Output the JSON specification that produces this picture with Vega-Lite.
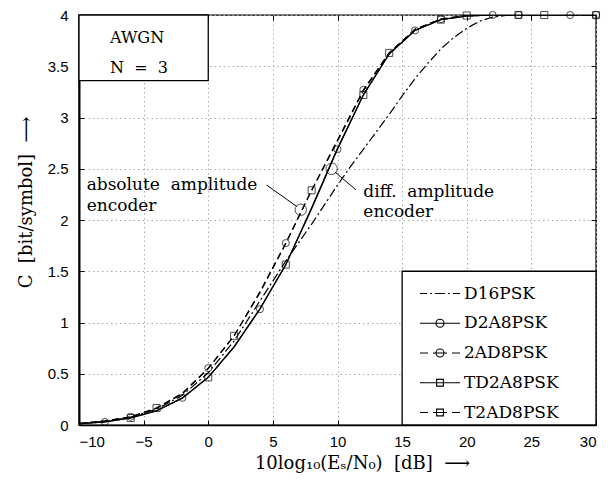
{
  "$schema": "https://vega.github.io/schema/vega-lite/v6.json",
  "width": 517,
  "height": 410,
  "autosize": {"type": "none"},
  "padding": {"left": 79, "top": 15, "right": 16, "bottom": 56},
  "background": "white",
  "datasets": {
    "curves": [
      {"series": "D16PSK", "x": -10, "y": 0.013}, {"series": "D16PSK", "x": -8, "y": 0.035}, {"series": "D16PSK", "x": -6, "y": 0.078}, {"series": "D16PSK", "x": -4, "y": 0.155}, {"series": "D16PSK", "x": -2, "y": 0.29}, {"series": "D16PSK", "x": 0, "y": 0.51}, {"series": "D16PSK", "x": 2, "y": 0.82}, {"series": "D16PSK", "x": 4, "y": 1.21}, {"series": "D16PSK", "x": 6, "y": 1.6}, {"series": "D16PSK", "x": 7, "y": 1.78}, {"series": "D16PSK", "x": 8, "y": 1.96}, {"series": "D16PSK", "x": 9, "y": 2.15}, {"series": "D16PSK", "x": 10, "y": 2.34}, {"series": "D16PSK", "x": 11, "y": 2.52}, {"series": "D16PSK", "x": 12, "y": 2.69}, {"series": "D16PSK", "x": 13, "y": 2.86}, {"series": "D16PSK", "x": 14, "y": 3.03}, {"series": "D16PSK", "x": 15, "y": 3.21}, {"series": "D16PSK", "x": 16, "y": 3.38}, {"series": "D16PSK", "x": 17, "y": 3.53}, {"series": "D16PSK", "x": 18, "y": 3.67}, {"series": "D16PSK", "x": 19, "y": 3.78}, {"series": "D16PSK", "x": 20, "y": 3.87}, {"series": "D16PSK", "x": 21, "y": 3.94}, {"series": "D16PSK", "x": 22, "y": 3.98}, {"series": "D16PSK", "x": 23, "y": 3.995}, {"series": "D16PSK", "x": 24, "y": 4}, {"series": "D16PSK", "x": 26, "y": 4}, {"series": "D16PSK", "x": 28, "y": 4}, {"series": "D16PSK", "x": 30, "y": 4},
      {"series": "D2A8PSK", "x": -10, "y": 0.012}, {"series": "D2A8PSK", "x": -8, "y": 0.03}, {"series": "D2A8PSK", "x": -6, "y": 0.07}, {"series": "D2A8PSK", "x": -4, "y": 0.14}, {"series": "D2A8PSK", "x": -2, "y": 0.265}, {"series": "D2A8PSK", "x": 0, "y": 0.465}, {"series": "D2A8PSK", "x": 2, "y": 0.76}, {"series": "D2A8PSK", "x": 4, "y": 1.13}, {"series": "D2A8PSK", "x": 6, "y": 1.565}, {"series": "D2A8PSK", "x": 8, "y": 2.11}, {"series": "D2A8PSK", "x": 10, "y": 2.69}, {"series": "D2A8PSK", "x": 12, "y": 3.22}, {"series": "D2A8PSK", "x": 14, "y": 3.62}, {"series": "D2A8PSK", "x": 16, "y": 3.85}, {"series": "D2A8PSK", "x": 18, "y": 3.955}, {"series": "D2A8PSK", "x": 20, "y": 3.99}, {"series": "D2A8PSK", "x": 22, "y": 4}, {"series": "D2A8PSK", "x": 24, "y": 4}, {"series": "D2A8PSK", "x": 26, "y": 4}, {"series": "D2A8PSK", "x": 28, "y": 4}, {"series": "D2A8PSK", "x": 30, "y": 4},
      {"series": "2AD8PSK", "x": -10, "y": 0.015}, {"series": "2AD8PSK", "x": -8, "y": 0.04}, {"series": "2AD8PSK", "x": -6, "y": 0.08}, {"series": "2AD8PSK", "x": -4, "y": 0.165}, {"series": "2AD8PSK", "x": -2, "y": 0.31}, {"series": "2AD8PSK", "x": 0, "y": 0.555}, {"series": "2AD8PSK", "x": 2, "y": 0.87}, {"series": "2AD8PSK", "x": 4, "y": 1.3}, {"series": "2AD8PSK", "x": 6, "y": 1.775}, {"series": "2AD8PSK", "x": 8, "y": 2.29}, {"series": "2AD8PSK", "x": 10, "y": 2.78}, {"series": "2AD8PSK", "x": 12, "y": 3.27}, {"series": "2AD8PSK", "x": 14, "y": 3.63}, {"series": "2AD8PSK", "x": 16, "y": 3.86}, {"series": "2AD8PSK", "x": 18, "y": 3.96}, {"series": "2AD8PSK", "x": 20, "y": 3.995}, {"series": "2AD8PSK", "x": 22, "y": 4}, {"series": "2AD8PSK", "x": 24, "y": 4}, {"series": "2AD8PSK", "x": 26, "y": 4}, {"series": "2AD8PSK", "x": 28, "y": 4}, {"series": "2AD8PSK", "x": 30, "y": 4},
      {"series": "TD2A8PSK", "x": -10, "y": 0.012}, {"series": "TD2A8PSK", "x": -8, "y": 0.03}, {"series": "TD2A8PSK", "x": -6, "y": 0.068}, {"series": "TD2A8PSK", "x": -4, "y": 0.138}, {"series": "TD2A8PSK", "x": -2, "y": 0.262}, {"series": "TD2A8PSK", "x": 0, "y": 0.465}, {"series": "TD2A8PSK", "x": 2, "y": 0.765}, {"series": "TD2A8PSK", "x": 4, "y": 1.135}, {"series": "TD2A8PSK", "x": 6, "y": 1.565}, {"series": "TD2A8PSK", "x": 8, "y": 2.12}, {"series": "TD2A8PSK", "x": 10, "y": 2.7}, {"series": "TD2A8PSK", "x": 12, "y": 3.22}, {"series": "TD2A8PSK", "x": 14, "y": 3.62}, {"series": "TD2A8PSK", "x": 16, "y": 3.85}, {"series": "TD2A8PSK", "x": 18, "y": 3.955}, {"series": "TD2A8PSK", "x": 20, "y": 3.99}, {"series": "TD2A8PSK", "x": 22, "y": 4}, {"series": "TD2A8PSK", "x": 24, "y": 4}, {"series": "TD2A8PSK", "x": 26, "y": 4}, {"series": "TD2A8PSK", "x": 28, "y": 4}, {"series": "TD2A8PSK", "x": 30, "y": 4},
      {"series": "T2AD8PSK", "x": -10, "y": 0.014}, {"series": "T2AD8PSK", "x": -8, "y": 0.038}, {"series": "T2AD8PSK", "x": -6, "y": 0.078}, {"series": "T2AD8PSK", "x": -4, "y": 0.165}, {"series": "T2AD8PSK", "x": -2, "y": 0.305}, {"series": "T2AD8PSK", "x": 0, "y": 0.55}, {"series": "T2AD8PSK", "x": 2, "y": 0.87}, {"series": "T2AD8PSK", "x": 4, "y": 1.29}, {"series": "T2AD8PSK", "x": 6, "y": 1.77}, {"series": "T2AD8PSK", "x": 8, "y": 2.29}, {"series": "T2AD8PSK", "x": 10, "y": 2.77}, {"series": "T2AD8PSK", "x": 12, "y": 3.26}, {"series": "T2AD8PSK", "x": 14, "y": 3.63}, {"series": "T2AD8PSK", "x": 16, "y": 3.86}, {"series": "T2AD8PSK", "x": 18, "y": 3.96}, {"series": "T2AD8PSK", "x": 20, "y": 3.995}, {"series": "T2AD8PSK", "x": 22, "y": 4}, {"series": "T2AD8PSK", "x": 24, "y": 4}, {"series": "T2AD8PSK", "x": 26, "y": 4}, {"series": "T2AD8PSK", "x": 28, "y": 4}, {"series": "T2AD8PSK", "x": 30, "y": 4}
    ],
    "markers": [
      {"series": "D2A8PSK", "x": -8, "y": 0.03}, {"series": "D2A8PSK", "x": -2, "y": 0.265}, {"series": "D2A8PSK", "x": 4, "y": 1.13}, {"series": "D2A8PSK", "x": 10, "y": 2.69}, {"series": "D2A8PSK", "x": 16, "y": 3.85}, {"series": "D2A8PSK", "x": 22, "y": 4}, {"series": "D2A8PSK", "x": 28, "y": 4},
      {"series": "2AD8PSK", "x": -6, "y": 0.08}, {"series": "2AD8PSK", "x": 0, "y": 0.555}, {"series": "2AD8PSK", "x": 6, "y": 1.775}, {"series": "2AD8PSK", "x": 12, "y": 3.27}, {"series": "2AD8PSK", "x": 18, "y": 3.96}, {"series": "2AD8PSK", "x": 24, "y": 4}, {"series": "2AD8PSK", "x": 30, "y": 4},
      {"series": "TD2A8PSK", "x": -6, "y": 0.068}, {"series": "TD2A8PSK", "x": 0, "y": 0.465}, {"series": "TD2A8PSK", "x": 6, "y": 1.565}, {"series": "TD2A8PSK", "x": 12, "y": 3.22}, {"series": "TD2A8PSK", "x": 18, "y": 3.955}, {"series": "TD2A8PSK", "x": 24, "y": 4}, {"series": "TD2A8PSK", "x": 30, "y": 4},
      {"series": "T2AD8PSK", "x": -4, "y": 0.165}, {"series": "T2AD8PSK", "x": 2, "y": 0.87}, {"series": "T2AD8PSK", "x": 8, "y": 2.29}, {"series": "T2AD8PSK", "x": 14, "y": 3.63}, {"series": "T2AD8PSK", "x": 20, "y": 3.995}, {"series": "T2AD8PSK", "x": 26, "y": 4}
    ],
    "boxes": [
      {"x": -10, "x2": 0, "y": 3.36, "y2": 4},
      {"x": 15, "x2": 30, "y": 0, "y2": 1.5}
    ],
    "callouts": [
      {"x": 7.16, "y": 2.1},
      {"x": 9.55, "y": 2.5}
    ],
    "leaders": [
      {"x": 4.52, "y": 2.341, "x2": 6.871, "y2": 2.13},
      {"x": 9.807, "y": 2.468, "x2": 11.43, "y2": 2.293}
    ],
    "notes": [
      {"text": "absolute\u00a0\u00a0amplitude", "x": -9.41, "y": 2.293},
      {"text": "encoder", "x": -9.41, "y": 2.09},
      {"text": "diff.\u00a0\u00a0amplitude", "x": 12.0, "y": 2.224},
      {"text": "encoder", "x": 12.0, "y": 2.029}
    ],
    "boxnotes": [
      {"text": "AWGN", "x": -7.6, "y": 3.73},
      {"text": "N\u00a0\u00a0=\u00a0\u00a03", "x": -7.6, "y": 3.437}
    ],
    "legendrows": [
      {"series": "D16PSK"}, {"series": "D2A8PSK"}, {"series": "2AD8PSK"}, {"series": "TD2A8PSK"}, {"series": "T2AD8PSK"}
    ]
  },
  "layer": [
    {
      "data": {"name": "curves"},
      "mark": {"type": "line", "color": "black", "strokeWidth": 1.2, "clip": true},
      "encoding": {
        "x": {"field": "x", "type": "quantitative", "scale": {"domain": [-10, 30], "nice": false, "zero": false},
          "axis": {"orient": "bottom", "values": [-10, -5, 0, 5, 10, 15, 20, 25, 30], "grid": true, "domain": true, "domainWidth": 1.5,
            "title": "10log\u2081\u2080(E\u209b/N\u2080)\u00a0\u00a0[dB]\u00a0\u00a0\u27f6", "titleX": 283, "titleY": 38, "titleAlign": "center", "titleBaseline": "middle", "labelPadding": 14}},
        "y": {"field": "y", "type": "quantitative", "scale": {"domain": [0, 4], "nice": false, "zero": false},
          "axis": {"orient": "left", "values": [0, 0.5, 1, 1.5, 2, 2.5, 3, 3.5, 4], "format": "~g", "grid": true, "domain": true, "domainWidth": 2,
            "title": "C\u00a0\u00a0[bit/symbol]\u00a0\u00a0\u27f6", "titleX": -53, "titleY": 187, "titleAngle": 270, "titleAlign": "center", "titleBaseline": "middle", "labelPadding": 16}},
        "detail": {"field": "series"},
        "strokeDash": {"field": "series", "type": "nominal",
          "scale": {"domain": ["D16PSK", "D2A8PSK", "2AD8PSK", "TD2A8PSK", "T2AD8PSK"], "range": [[9, 3, 2, 3], [1, 0], [7, 4], [1, 0], [7, 4]]},
          "legend": null}
      }
    },
    {
      "data": {"name": "boxes"},
      "mark": {"type": "rect", "fill": "white", "stroke": "black", "strokeWidth": 1.3},
      "encoding": {
        "x": {"field": "x", "type": "quantitative", "scale": {"domain": [-10, 30], "nice": false, "zero": false},
          "axis": {"orient": "top", "values": [-10, -5, 0, 5, 10, 15, 20, 25, 30], "labels": false, "grid": false, "domain": false, "title": null}},
        "x2": {"field": "x2"},
        "y": {"field": "y", "type": "quantitative", "scale": {"domain": [0, 4], "nice": false, "zero": false},
          "axis": {"orient": "right", "values": [0, 0.5, 1, 1.5, 2, 2.5, 3, 3.5, 4], "labels": false, "grid": false, "domain": false, "title": null}},
        "y2": {"field": "y2"}
      }
    },
    {
      "data": {"name": "markers"},
      "mark": {"type": "point", "filled": false, "color": "black", "strokeWidth": 1, "size": 50},
      "encoding": {
        "x": {"field": "x", "type": "quantitative", "axis": null},
        "y": {"field": "y", "type": "quantitative", "axis": null},
        "shape": {"field": "series", "type": "nominal",
          "scale": {"domain": ["D2A8PSK", "2AD8PSK", "TD2A8PSK", "T2AD8PSK"], "range": ["circle", "circle", "square", "square"]},
          "legend": null}
      }
    },
    {
      "data": {"name": "callouts"},
      "mark": {"type": "point", "shape": "circle", "filled": false, "color": "black", "strokeWidth": 1, "size": 130},
      "encoding": {
        "x": {"field": "x", "type": "quantitative", "axis": null},
        "y": {"field": "y", "type": "quantitative", "axis": null}
      }
    },
    {
      "data": {"name": "leaders"},
      "mark": {"type": "rule", "color": "black", "strokeWidth": 1},
      "encoding": {
        "x": {"field": "x", "type": "quantitative", "axis": null},
        "y": {"field": "y", "type": "quantitative", "axis": null},
        "x2": {"field": "x2"},
        "y2": {"field": "y2"}
      }
    },
    {
      "data": {"name": "notes"},
      "mark": {"type": "text", "align": "left", "baseline": "alphabetic", "font": "DejaVu Serif", "fontSize": 17, "color": "black"},
      "encoding": {
        "x": {"field": "x", "type": "quantitative", "axis": null},
        "y": {"field": "y", "type": "quantitative", "axis": null},
        "text": {"field": "text"}
      }
    },
    {
      "data": {"name": "boxnotes"},
      "mark": {"type": "text", "align": "left", "baseline": "alphabetic", "font": "DejaVu Serif", "fontSize": 16, "color": "black"},
      "encoding": {
        "x": {"field": "x", "type": "quantitative", "axis": null},
        "y": {"field": "y", "type": "quantitative", "axis": null},
        "text": {"field": "text"}
      }
    },
    {
      "data": {"name": "legendrows"},
      "transform": [{"filter": "false"}],
      "mark": {"type": "point", "filled": false, "color": "black", "strokeWidth": 1.1, "size": 1600},
      "encoding": {
        "shape": {"field": "series", "type": "nominal",
          "scale": {"domain": ["D16PSK", "D2A8PSK", "2AD8PSK", "TD2A8PSK", "T2AD8PSK"],
            "range": [
              "M-1,0H-0.65M-0.5,0H-0.4M-0.25,0H0.25M0.4,0H0.5M0.65,0H1",
              "M-1,0H1M0.2,0A0.2,0.2,0,1,1,-0.2,0A0.2,0.2,0,1,1,0.2,0",
              "M-1,0H-0.6M-0.35,0H0.35M0.6,0H1M0.2,0A0.2,0.2,0,1,1,-0.2,0A0.2,0.2,0,1,1,0.2,0",
              "M-1,0H1M-0.17,-0.17H0.17V0.17H-0.17Z",
              "M-1,0H-0.6M-0.35,0H0.35M0.6,0H1M-0.17,-0.17H0.17V0.17H-0.17Z"
            ]},
          "legend": {"title": null, "orient": "none", "legendX": 340, "legendY": 257.5, "padding": 0,
            "labelFont": "DejaVu Serif", "labelFontSize": 17, "labelColor": "black", "labelOffset": 3, "rowPadding": 0.75,
            "symbolSize": 1600, "symbolStrokeWidth": 1.1, "symbolStrokeColor": "black", "symbolFillColor": "transparent", "symbolOpacity": 1}}
      }
    }
  ],
  "resolve": {"scale": {"shape": "independent"}, "axis": {"x": "independent", "y": "independent"}},
  "config": {
    "view": {"stroke": "black", "strokeWidth": 1.4},
    "axis": {
      "labelFont": "Liberation Sans", "labelFontSize": 15, "labelColor": "black",
      "titleFont": "DejaVu Serif", "titleFontSize": 18, "titleFontWeight": "normal", "titleColor": "black",
      "tickSize": -5, "tickColor": "black", "tickWidth": 1,
      "domainColor": "black",
      "gridColor": "#aaaaaa", "gridDash": [1.5, 3], "gridWidth": 1
    }
  }
}
